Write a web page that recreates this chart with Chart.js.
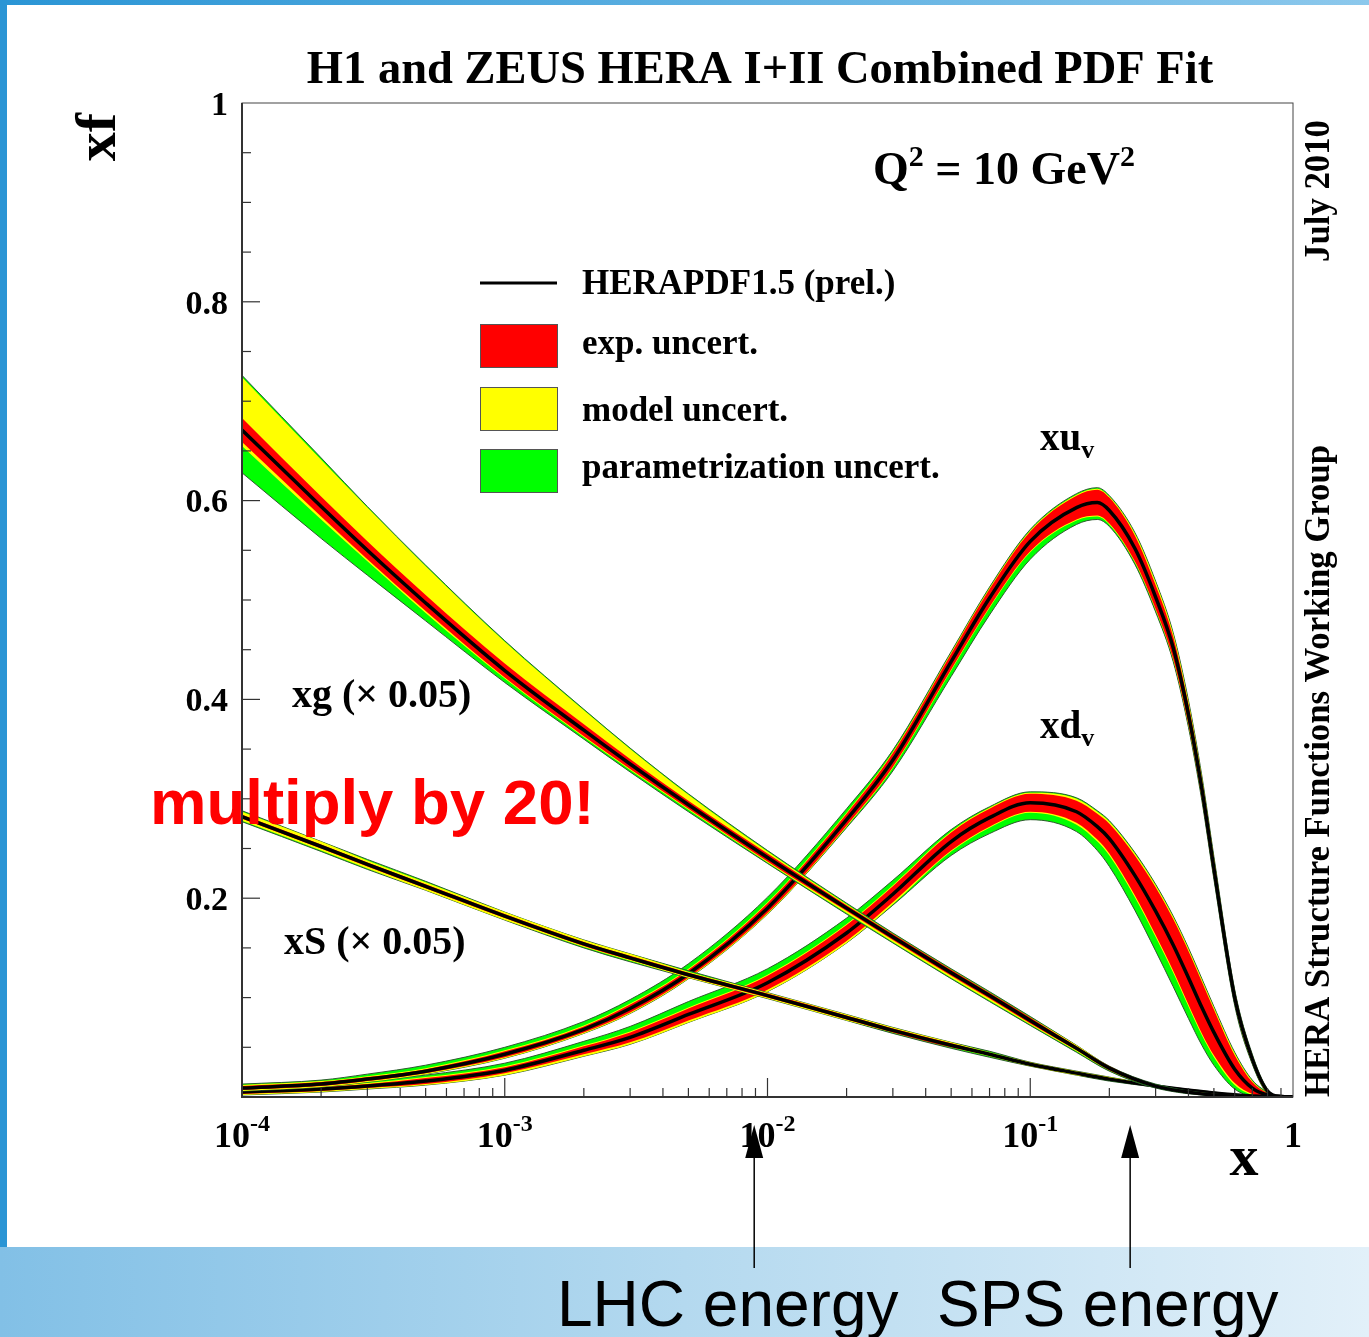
<!DOCTYPE html>
<html>
<head>
<meta charset="utf-8">
<title>HERAPDF1.5 parton distributions</title>
<script src="https://cdn.jsdelivr.net/npm/chart.js@4.4.1/dist/chart.umd.min.js"></script>
<style>
  html, body { margin: 0; padding: 0; background: #fff; }
  #wrap { width: 1369px; height: 1337px; }
</style>
</head>
<body>
<div id="wrap"><canvas id="pdfChart" width="1369" height="1337"></canvas></div>
<script>
// x grids (Bjorken x)
const seaX = [1e-4, 2e-4, 3e-4, 5e-4, 1e-3, 2e-3, 3e-3, 5e-3, 1e-2, 2e-2, 3e-2, 5e-2, 0.07, 0.1, 0.15, 0.2, 0.3, 0.5, 0.7, 1];
const valX = [1e-4, 2e-4, 3e-4, 5e-4, 1e-3, 2e-3, 3e-3, 5e-3, 1e-2, 2e-2, 3e-2, 5e-2, 0.07, 0.1, 0.15, 0.18, 0.2, 0.25, 0.3, 0.35, 0.4, 0.45, 0.5, 0.6, 0.7, 0.8, 0.9, 1];

// gluon xg (x 0.05): central value and band offsets (exp, model, parametrization)
const xgCentral = [0.671, 0.594, 0.550, 0.497, 0.429, 0.369, 0.335, 0.294, 0.241, 0.190, 0.161, 0.125, 0.102, 0.077, 0.049, 0.029, 0.011, 0.002, 0.0005, 0];
const xgExp     = [0.012, 0.010, 0.009, 0.008, 0.007, 0.006, 0.005, 0.004, 0.004, 0.003, 0.003, 0.003, 0.003, 0.003, 0.002, 0.002, 0.001, 0.001, 0.001, 0];
const xgModUp   = [0.053, 0.047, 0.043, 0.037, 0.029, 0.020, 0.015, 0.010, 0.006, 0.004, 0.003, 0.003, 0.003, 0.003, 0.003, 0.002, 0.001, 0.001, 0.001, 0];
const xgModDn   = [0.016, 0.013, 0.011, 0.010, 0.008, 0.007, 0.006, 0.005, 0.005, 0.005, 0.005, 0.005, 0.005, 0.004, 0.003, 0.002, 0.001, 0.001, 0.001, 0];
const xgParUp   = [0.055, 0.049, 0.044, 0.038, 0.030, 0.021, 0.016, 0.011, 0.007, 0.005, 0.004, 0.004, 0.004, 0.004, 0.003, 0.002, 0.002, 0.001, 0.001, 0];
const xgParDn   = [0.043, 0.032, 0.025, 0.018, 0.012, 0.009, 0.008, 0.007, 0.006, 0.006, 0.006, 0.006, 0.006, 0.005, 0.004, 0.003, 0.002, 0.001, 0.001, 0];

// sea xS (x 0.05)
const xsCentral = [0.282, 0.252, 0.234, 0.212, 0.182, 0.154, 0.140, 0.123, 0.102, 0.080, 0.067, 0.052, 0.043, 0.033, 0.024, 0.018, 0.011, 0.004, 0.001, 0];
const xsExp     = [0.002, 0.002, 0.002, 0.002, 0.002, 0.002, 0.002, 0.002, 0.002, 0.002, 0.002, 0.002, 0.001, 0.001, 0.001, 0.001, 0.001, 0.001, 0, 0];
const xsModUp   = [0.005, 0.005, 0.004, 0.004, 0.004, 0.004, 0.004, 0.003, 0.003, 0.003, 0.003, 0.003, 0.002, 0.002, 0.002, 0.002, 0.001, 0.001, 0, 0];
const xsModDn   = [0.004, 0.004, 0.004, 0.004, 0.004, 0.003, 0.003, 0.003, 0.003, 0.003, 0.002, 0.002, 0.002, 0.002, 0.002, 0.001, 0.001, 0.001, 0, 0];
const xsParUp   = [0.006, 0.005, 0.005, 0.005, 0.004, 0.004, 0.004, 0.004, 0.003, 0.003, 0.003, 0.003, 0.003, 0.002, 0.002, 0.002, 0.001, 0.001, 0, 0];
const xsParDn   = [0.005, 0.005, 0.005, 0.004, 0.004, 0.004, 0.004, 0.003, 0.003, 0.003, 0.003, 0.003, 0.003, 0.002, 0.002, 0.002, 0.001, 0.001, 0, 0];

// valence xu_v
const xuvCentral = [0.009, 0.013, 0.018, 0.026, 0.043, 0.068, 0.089, 0.124, 0.190, 0.279, 0.339, 0.438, 0.502, 0.559, 0.593, 0.598, 0.590, 0.552, 0.503, 0.452, 0.385, 0.310, 0.230, 0.100, 0.038, 0.006, 0.0005, 0];
const xuvExp     = [0.002, 0.002, 0.002, 0.002, 0.003, 0.003, 0.004, 0.004, 0.005, 0.006, 0.007, 0.008, 0.009, 0.010, 0.012, 0.013, 0.013, 0.013, 0.012, 0.011, 0.010, 0.009, 0.008, 0.005, 0.003, 0.001, 0, 0];
const xuvModUp   = [0.003, 0.003, 0.003, 0.003, 0.004, 0.004, 0.005, 0.005, 0.006, 0.007, 0.008, 0.009, 0.010, 0.011, 0.013, 0.014, 0.014, 0.015, 0.015, 0.014, 0.013, 0.012, 0.011, 0.007, 0.004, 0.002, 0, 0];
const xuvModDn   = [0.003, 0.003, 0.003, 0.003, 0.004, 0.004, 0.005, 0.005, 0.006, 0.007, 0.008, 0.009, 0.010, 0.011, 0.013, 0.014, 0.014, 0.014, 0.013, 0.012, 0.011, 0.010, 0.009, 0.006, 0.004, 0.002, 0, 0];
const xuvParUp   = [0.004, 0.004, 0.005, 0.006, 0.007, 0.008, 0.009, 0.010, 0.011, 0.011, 0.010, 0.010, 0.011, 0.012, 0.014, 0.015, 0.015, 0.016, 0.016, 0.015, 0.014, 0.013, 0.012, 0.008, 0.005, 0.002, 0, 0];
const xuvParDn   = [0.003, 0.003, 0.003, 0.003, 0.004, 0.004, 0.005, 0.005, 0.006, 0.008, 0.011, 0.015, 0.017, 0.018, 0.017, 0.017, 0.016, 0.016, 0.015, 0.014, 0.013, 0.012, 0.011, 0.008, 0.005, 0.002, 0, 0];

// valence xd_v
const xdvCentral = [0.005, 0.008, 0.011, 0.016, 0.027, 0.047, 0.060, 0.083, 0.115, 0.165, 0.204, 0.257, 0.281, 0.296, 0.287, 0.272, 0.260, 0.223, 0.187, 0.153, 0.120, 0.090, 0.065, 0.028, 0.009, 0.002, 0.0005, 0];
const xdvExp     = [0.002, 0.002, 0.002, 0.003, 0.003, 0.004, 0.005, 0.006, 0.007, 0.008, 0.008, 0.009, 0.009, 0.009, 0.011, 0.013, 0.015, 0.020, 0.024, 0.026, 0.027, 0.026, 0.023, 0.014, 0.006, 0.002, 0, 0];
const xdvModUp   = [0.003, 0.003, 0.003, 0.004, 0.004, 0.005, 0.006, 0.007, 0.008, 0.009, 0.009, 0.010, 0.010, 0.010, 0.013, 0.015, 0.017, 0.022, 0.026, 0.028, 0.029, 0.028, 0.025, 0.016, 0.007, 0.002, 0, 0];
const xdvModDn   = [0.003, 0.003, 0.003, 0.004, 0.005, 0.006, 0.007, 0.008, 0.009, 0.010, 0.010, 0.010, 0.010, 0.010, 0.013, 0.015, 0.017, 0.022, 0.026, 0.028, 0.029, 0.028, 0.025, 0.016, 0.007, 0.002, 0, 0];
const xdvParUp   = [0.004, 0.004, 0.005, 0.006, 0.007, 0.009, 0.011, 0.013, 0.014, 0.015, 0.014, 0.012, 0.011, 0.011, 0.014, 0.016, 0.018, 0.023, 0.027, 0.029, 0.030, 0.029, 0.026, 0.017, 0.008, 0.003, 0, 0];
const xdvParDn   = [0.003, 0.003, 0.003, 0.004, 0.005, 0.006, 0.007, 0.008, 0.009, 0.010, 0.011, 0.014, 0.016, 0.017, 0.020, 0.024, 0.028, 0.035, 0.040, 0.042, 0.041, 0.038, 0.033, 0.020, 0.008, 0.003, 0, 0];

// axis ticks and labels
const yTickValues = [0.2, 0.4, 0.6, 0.8, 1];
const yTickLabels = ['0.2', '0.4', '0.6', '0.8', '1'];
const xDecades = [1e-4, 1e-3, 1e-2, 1e-1, 1];
const xDecadeBase = ['10', '10', '10', '10', '1'];
const xDecadeExp = ['-4', '-3', '-2', '-1', ''];

// beam energy markers on the x axis
const markerX = [0.0089, 0.24];

const legendLabels = ['HERAPDF1.5 (prel.)', 'exp. uncert.', 'model uncert.', 'parametrization uncert.'];

const RED = '#ff0000';
const YELLOW = '#ffff00';
const GREEN = '#00ff00';
const EDGE = '#2f5a2f';
const serif = '"Liberation Serif", "Times New Roman", serif';
const sans = '"Liberation Sans", Arial, sans-serif';

const curves = [
    { x: seaX, c: xgCentral, exp: xgExp, modUp: xgModUp, modDn: xgModDn, parUp: xgParUp, parDn: xgParDn },
    { x: seaX, c: xsCentral, exp: xsExp, modUp: xsModUp, modDn: xsModDn, parUp: xsParUp, parDn: xsParDn },
    { x: valX, c: xuvCentral, exp: xuvExp, modUp: xuvModUp, modDn: xuvModDn, parUp: xuvParUp, parDn: xuvParDn },
    { x: valX, c: xdvCentral, exp: xdvExp, modUp: xdvModUp, modDn: xdvModDn, parUp: xdvParUp, parDn: xdvParDn }
];

function edge(xs, ys, off, sign) {
    return xs.map((x, i) => ({ x: x, y: Math.max(0, ys[i] + sign * off[i]) }));
}

// Each curve: green band, yellow band, red band, then the central line on top
const datasets = [];
curves.forEach((cv, g) => {
    const base = g * 10;
    const common = { pointRadius: 0, pointHoverRadius: 0, cubicInterpolationMode: 'monotone' };

    datasets.push({ ...common, data: edge(cv.x, cv.c, cv.parUp, 1), borderColor: EDGE, borderWidth: 1, backgroundColor: GREEN, fill: '+1', order: base + 4 });
    datasets.push({ ...common, data: edge(cv.x, cv.c, cv.parDn, -1), borderColor: EDGE, borderWidth: 1, fill: false, order: base + 3.9 });

    datasets.push({ ...common, data: edge(cv.x, cv.c, cv.modUp, 1), borderColor: 'transparent', borderWidth: 0, backgroundColor: YELLOW, fill: '+1', order: base + 3 });
    datasets.push({ ...common, data: edge(cv.x, cv.c, cv.modDn, -1), borderColor: 'transparent', borderWidth: 0, fill: false, order: base + 2.9 });

    datasets.push({ ...common, data: edge(cv.x, cv.c, cv.exp, 1), borderColor: 'transparent', borderWidth: 0, backgroundColor: RED, fill: '+1', order: base + 2 });
    datasets.push({ ...common, data: edge(cv.x, cv.c, cv.exp, -1), borderColor: 'transparent', borderWidth: 0, fill: false, order: base + 1.9 });

    datasets.push({ ...common, data: cv.x.map((x, i) => ({ x: x, y: cv.c[i] })), borderColor: '#000', borderWidth: 3.5, fill: false, order: base + 1 });
});

// Text made of runs of different sizes (superscripts, subscripts)
function drawRuns(ctx, runs, x, y, align) {
    let total = 0;
    runs.forEach(r => { ctx.font = r.font; r.w = ctx.measureText(r.t).width; total += r.w; });
    let left = x;
    if (align === 'center') left = x - total / 2;
    if (align === 'right') left = x - total;
    ctx.textAlign = 'left';
    ctx.textBaseline = 'alphabetic';
    runs.forEach(r => {
        ctx.font = r.font;
        ctx.fillText(r.t, left, y - (r.rise || 0));
        left += r.w;
    });
}

function rotatedText(ctx, text, cx, cy, font, targetLen) {
    ctx.save();
    ctx.translate(cx, cy);
    ctx.rotate(-Math.PI / 2);
    ctx.font = font;
    if (targetLen) {
        const w = ctx.measureText(text).width;
        ctx.scale(targetLen / w, 1);
    }
    ctx.textAlign = 'center';
    ctx.textBaseline = 'middle';
    ctx.fillText(text, 0, 0);
    ctx.restore();
}

const pageDecor = {
    id: 'pageDecor',
    beforeDraw(chart) {
        const ctx = chart.ctx;
        const W = chart.width, H = chart.height;
        ctx.save();
        ctx.fillStyle = '#ffffff';
        ctx.fillRect(0, 0, W, H);

        // slide frame: blue stripe on top and left
        const top = ctx.createLinearGradient(0, 0, W, 0);
        top.addColorStop(0, '#2a95d5');
        top.addColorStop(1, '#8cc8ec');
        ctx.fillStyle = top;
        ctx.fillRect(0, 0, W, 5);
        ctx.fillStyle = '#2a95d5';
        ctx.fillRect(0, 0, 7, 1247);

        // bottom band
        const band = ctx.createLinearGradient(0, 0, W, 0);
        band.addColorStop(0, '#82c0e6');
        band.addColorStop(0.5, '#b4d9ef');
        band.addColorStop(1, '#e2f0f9');
        ctx.fillStyle = band;
        ctx.fillRect(0, 1247, W, H - 1247);
        ctx.restore();
    },
    afterDraw(chart) {
        const ctx = chart.ctx;
        const area = chart.chartArea;
        const xs = chart.scales.x, ys = chart.scales.y;
        ctx.save();

        // frame
        ctx.strokeStyle = '#444';
        ctx.lineWidth = 1;
        ctx.strokeRect(area.left, area.top, area.right - area.left, area.bottom - area.top);
        ctx.strokeStyle = '#333';
        ctx.lineWidth = 2;
        ctx.beginPath();
        ctx.moveTo(area.left, area.top);
        ctx.lineTo(area.left, area.bottom);
        ctx.lineTo(area.right, area.bottom);
        ctx.stroke();

        // y ticks, every 0.05, long ones at multiples of 0.2
        ctx.lineWidth = 1.2;
        for (let k = 1; k < 20; k++) {
            const v = k * 0.05;
            const py = ys.getPixelForValue(v);
            const len = (k % 4 === 0) ? 18 : 9;
            ctx.beginPath();
            ctx.moveTo(area.left, py);
            ctx.lineTo(area.left + len, py);
            ctx.stroke();
        }
        // x ticks, log decades
        for (let d = 0; d < xDecades.length - 1; d++) {
            for (let m = 2; m <= 10; m++) {
                const v = xDecades[d] * m;
                if (v >= 1) continue;
                const px = xs.getPixelForValue(v);
                const len = (m === 10) ? 19 : 9;
                ctx.beginPath();
                ctx.moveTo(px, area.bottom);
                ctx.lineTo(px, area.bottom - len);
                ctx.stroke();
            }
        }

        ctx.fillStyle = '#000';
        // y tick labels
        ctx.font = 'bold 34px ' + serif;
        ctx.textAlign = 'right';
        ctx.textBaseline = 'middle';
        yTickValues.forEach((v, i) => {
            ctx.fillText(yTickLabels[i], area.left - 14, ys.getPixelForValue(v) + 3);
        });
        // x tick labels
        xDecades.forEach((v, i) => {
            drawRuns(ctx, [
                { t: xDecadeBase[i], font: 'bold 36px ' + serif },
                { t: xDecadeExp[i], font: 'bold 24px ' + serif, rise: 16 }
            ], xs.getPixelForValue(v), 1147, 'center');
        });

        // axis titles
        ctx.font = 'bold 58px ' + serif;
        ctx.textAlign = 'center';
        ctx.textBaseline = 'alphabetic';
        ctx.fillText('x', 1244, 1175);
        rotatedText(ctx, 'xf', 100, 137, 'bold 58px ' + serif);

        // title
        ctx.font = 'bold 46.5px ' + serif;
        ctx.textAlign = 'center';
        ctx.fillText('H1 and ZEUS HERA I+II Combined PDF Fit', 760, 83);

        // scale label
        drawRuns(ctx, [
            { t: 'Q', font: 'bold 46px ' + serif },
            { t: '2', font: 'bold 30px ' + serif, rise: 18 },
            { t: ' = 10 GeV', font: 'bold 46px ' + serif },
            { t: '2', font: 'bold 30px ' + serif, rise: 18 }
        ], 873, 184, 'left');

        // legend
        const lx = 480, lw = 77;
        ctx.strokeStyle = '#000';
        ctx.lineWidth = 3;
        ctx.beginPath();
        ctx.moveTo(lx, 283);
        ctx.lineTo(lx + lw, 283);
        ctx.stroke();
        [[RED, 324], [YELLOW, 387], [GREEN, 449]].forEach(b => {
            ctx.fillStyle = b[0];
            ctx.fillRect(lx, b[1], lw, 43);
            ctx.strokeStyle = '#555';
            ctx.lineWidth = 1;
            ctx.strokeRect(lx + 0.5, b[1] + 0.5, lw, 43);
        });
        ctx.fillStyle = '#000';
        ctx.font = 'bold 35px ' + serif;
        ctx.textAlign = 'left';
        ctx.textBaseline = 'alphabetic';
        [294, 354, 421, 478].forEach((by, i) => ctx.fillText(legendLabels[i], 582, by));

        // curve labels
        const big = 'bold 39px ' + serif, small = 'bold 26px ' + serif;
        drawRuns(ctx, [{ t: 'xu', font: big }, { t: 'v', font: small, rise: -8 }], 1040, 450, 'left');
        drawRuns(ctx, [{ t: 'xd', font: big }, { t: 'v', font: small, rise: -8 }], 1040, 738, 'left');
        drawRuns(ctx, [{ t: 'xg (\u00d7 0.05)', font: 'bold 40px ' + serif }], 292, 707, 'left');
        drawRuns(ctx, [{ t: 'xS (\u00d7 0.05)', font: 'bold 40px ' + serif }], 284, 954, 'left');

        // side notes
        rotatedText(ctx, 'July 2010', 1320, 191, 'bold 36px ' + serif, 142);
        rotatedText(ctx, 'HERA Structure Functions Working Group', 1320, 771, 'bold 36px ' + serif, 652);

        // red note
        ctx.fillStyle = '#ff0000';
        ctx.font = 'bold 63.5px ' + sans;
        ctx.textAlign = 'left';
        ctx.fillText('multiply by 20!', 150, 824);

        // energy markers
        ctx.fillStyle = '#000';
        ctx.strokeStyle = '#000';
        ctx.lineWidth = 1.5;
        markerX.forEach(v => {
            const px = xs.getPixelForValue(v);
            ctx.beginPath();
            ctx.moveTo(px, 1268);
            ctx.lineTo(px, 1156);
            ctx.stroke();
            ctx.beginPath();
            ctx.moveTo(px, 1125);
            ctx.lineTo(px - 9, 1158);
            ctx.lineTo(px + 9, 1158);
            ctx.closePath();
            ctx.fill();
        });

        ctx.font = '64px ' + sans;
        ctx.textAlign = 'left';
        ctx.fillText('LHC energy', 557, 1326);
        ctx.fillText('SPS energy', 937, 1326);

        ctx.restore();
    }
};

new Chart(document.getElementById('pdfChart'), {
    type: 'line',
    data: { datasets: datasets },
    options: {
        responsive: false,
        animation: false,
        devicePixelRatio: 1,
        layout: { padding: { left: 242, top: 103, right: 76, bottom: 240 } },
        scales: {
            x: { type: 'logarithmic', min: 1e-4, max: 1, display: false },
            y: { type: 'linear', min: 0, max: 1, display: false }
        },
        plugins: {
            legend: { display: false },
            tooltip: { enabled: false }
        }
    },
    plugins: [pageDecor]
});
</script>
</body>
</html>
